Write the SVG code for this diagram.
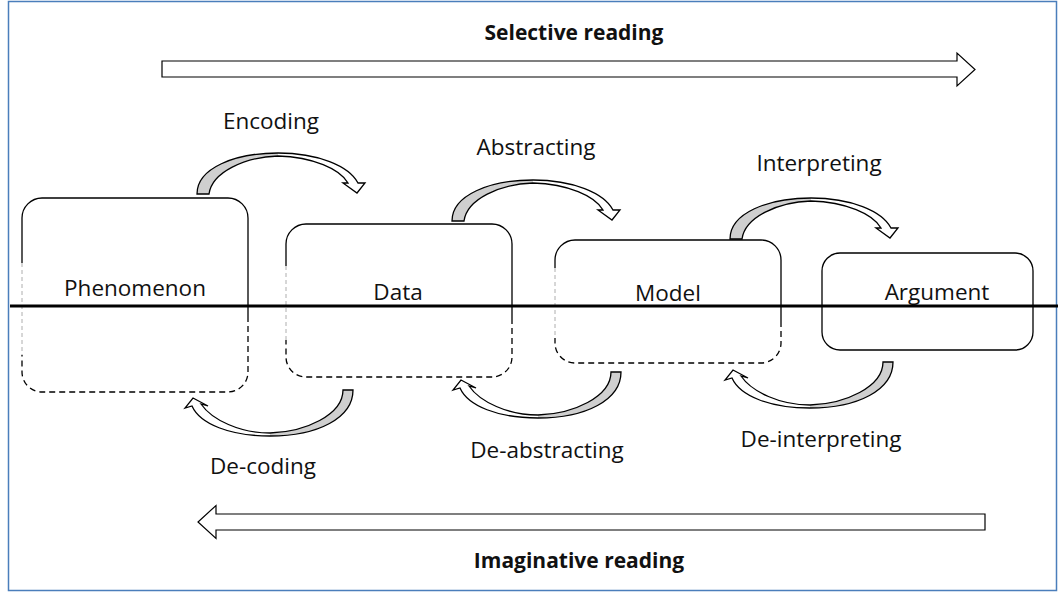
<svg xmlns="http://www.w3.org/2000/svg" width="1058" height="592" viewBox="0 0 1058 592">
<style>
.lbl{font-family:"Open Sans","Liberation Sans",sans-serif;font-size:22.5px;fill:#111;text-anchor:middle}
.ttl{font-family:"Open Sans","Liberation Sans",sans-serif;font-size:21px;font-weight:bold;fill:#111;text-anchor:middle}
.solid{fill:none;stroke:#000;stroke-width:1.3}
.dash{fill:none;stroke:#000;stroke-width:1.3;stroke-dasharray:6 4}
.gdash{fill:none;stroke:#9a9a9a;stroke-width:0.8;stroke-dasharray:4 3}
.gray{fill:#cfcfcf;stroke:none}
.white{fill:#fff;stroke:none}
.outl{fill:none;stroke:#000;stroke-width:1.3;stroke-linejoin:miter}
.block{fill:#fff;stroke:#000;stroke-width:1.2}
</style>
<defs>
<g id="arrowTop">
<path class="gray" d="M0,0 C0,-26 38,-41 81,-41 L81,-38 C48,-37 15,-22 12,0 Z"/>
<path class="white" d="M81,-41 C121,-41 152,-28 161,-11 L168,-11 L160,-1 L146,-11 L151,-11 C143,-25 116,-37 81,-38 Z"/>
<path class="outl" d="M0,0 C0,-26 38,-41 81,-41 C121,-41 152,-28 161,-11 L168,-11 L160,-1 L146,-11 L151,-11 C143,-25 116,-37 81,-38 C48,-37 15,-22 12,0 Z"/>
</g>
<g id="arrowBot">
<path class="gray" d="M0,0 C0,28 -35,46 -83,46 L-83,43 C-48,42 -10,25 -10,0 Z"/>
<path class="white" d="M-83,46 C-123,46 -153,34 -161,16 L-168,18 L-160,8 L-145,16 L-152,14 C-141,30 -113,43 -83,43 Z"/>
<path class="outl" d="M0,0 C0,28 -35,46 -83,46 C-123,46 -153,34 -161,16 L-168,18 L-160,8 L-145,16 L-152,14 C-141,30 -113,43 -83,43 C-48,42 -10,25 -10,0 Z"/>
</g>
</defs>
<rect x="8.5" y="1.5" width="1048" height="589" fill="#fff" stroke="#4a7ebb" stroke-width="1.5"/>

<g id="selective-reading">
<polygon class="block" points="162,61 957,61 957,53 975,69.5 957,86 957,77 162,77"/>
<text class="ttl" x="574" y="40">Selective reading</text>
</g>
<g id="imaginative-reading">
<polygon class="block" points="985,514 216,514 216,505.5 198,522 216,538.5 216,530 985,530"/>
<text class="ttl" x="579" y="568">Imaginative reading</text>
</g>

<g id="phenomenon">
<path class="solid" d="M22,263 V218 A20,20 0 0 1 42,198 H228 A20,20 0 0 1 248,218 V316"/>
<path class="dash" d="M248,316 V372 A20,20 0 0 1 228,392 H42 A20,20 0 0 1 22,372 V355"/>
<path class="gdash" d="M22,263 V355"/>
<text class="lbl" x="135" y="296">Phenomenon</text>
</g>
<g id="data">
<path class="solid" d="M286,266 V244 A20,20 0 0 1 306,224 H492 A20,20 0 0 1 512,244 V318"/>
<path class="dash" d="M512,318 V357 A20,20 0 0 1 492,377 H306 A20,20 0 0 1 286,357 V340"/>
<path class="gdash" d="M286,266 V340"/>
<text class="lbl" x="398" y="300">Data</text>
</g>
<g id="model">
<path class="solid" d="M555,268 V260 A20,20 0 0 1 575,240 H761 A20,20 0 0 1 781,260 V321"/>
<path class="dash" d="M781,321 V343 A20,20 0 0 1 761,363 H575 A20,20 0 0 1 555,343 V338"/>
<path class="gdash" d="M555,268 V338"/>
<text class="lbl" x="668" y="301">Model</text>
</g>
<g id="argument">
<rect class="solid" x="822" y="253" width="211" height="97" rx="18"/>
<text class="lbl" x="937" y="300">Argument</text>
</g>

<line x1="10" y1="306" x2="1058" y2="306" stroke="#000" stroke-width="3"/>

<g id="connectors">
<g id="encoding"><use href="#arrowTop" transform="translate(197,194)"/><text class="lbl" x="271" y="129">Encoding</text></g>
<g id="abstracting"><use href="#arrowTop" transform="translate(452,221)"/><text class="lbl" x="536" y="155">Abstracting</text></g>
<g id="interpreting"><use href="#arrowTop" transform="translate(730,239)"/><text class="lbl" x="819" y="171">Interpreting</text></g>
<g id="decoding"><use href="#arrowBot" transform="translate(353,390)"/><text class="lbl" x="263" y="474">De-coding</text></g>
<g id="deabstracting"><use href="#arrowBot" transform="translate(621,372)"/><text class="lbl" x="547" y="458">De-abstracting</text></g>
<g id="deinterpreting"><use href="#arrowBot" transform="translate(893,362)"/><text class="lbl" x="821" y="447">De-interpreting</text></g>
</g>
</svg>
